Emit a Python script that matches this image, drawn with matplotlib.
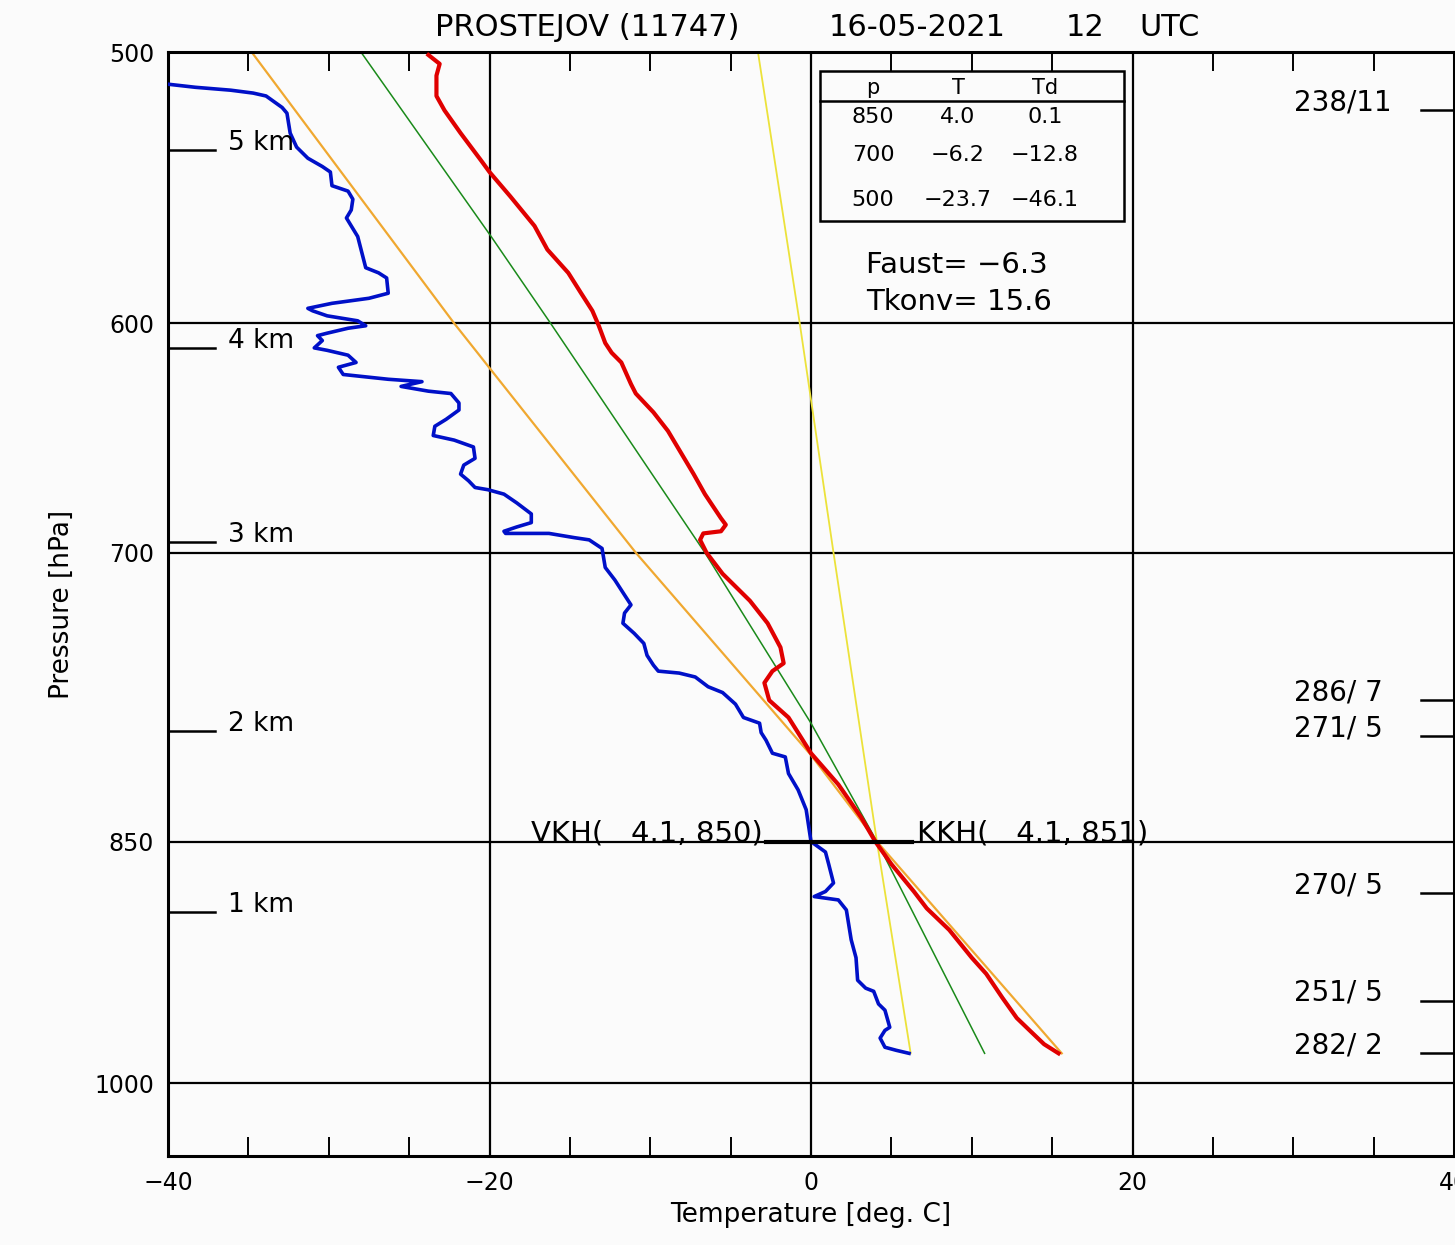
import matplotlib
matplotlib.use('Agg')
import matplotlib.pyplot as plt
import matplotlib.transforms as mtransforms

# temperature profile (red)
temp_p = [501, 504, 508, 515, 520, 528, 538, 542, 551, 562, 571, 580, 588, 595, 601, 608,
          612, 616, 625, 629, 637, 645, 658, 664, 673, 684, 687, 690, 691, 694, 700, 710,
          723, 734, 746, 754, 758, 764, 773, 782, 801, 818, 836, 850, 863, 879, 889, 902,
          919, 929, 944, 957, 965, 974, 980]
temp_t = [-23.8, -23.1, -23.3, -23.3, -22.8, -21.8, -20.5, -20.0, -18.7, -17.2, -16.4,
          -15.1, -14.3, -13.6, -13.2, -12.8, -12.4, -11.8, -11.2, -10.9, -9.8, -8.9, -7.8,
          -7.3, -6.6, -5.6, -5.3, -5.6, -6.7, -6.9, -6.5, -5.5, -3.8, -2.7, -1.9, -1.7,
          -2.4, -2.9, -2.6, -1.4, 0.0, 1.7, 3.1, 4.0, 5.0, 6.4, 7.2, 8.6, 10.0, 10.9, 11.9,
          12.8, 13.6, 14.5, 15.4]

# dew point profile (blue)
dew_p = [511, 512, 513, 514, 515, 519, 521, 528, 533, 537, 540, 542, 547, 549, 552, 556,
         559, 563, 566, 578, 580, 582, 588, 590, 592, 594, 595, 597, 599, 601, 602, 604,
         605, 607, 610, 611, 613, 616, 618, 621, 623, 624, 626, 628, 629, 633, 636, 640,
         643, 647, 649, 652, 657, 660, 664, 667, 670, 671, 673, 677, 682, 686, 688, 690,
         691, 691, 693, 694, 698, 707, 713, 719, 725, 729, 734, 739, 744, 750, 755, 758,
         759, 761, 766, 769, 775, 782, 785, 790, 794, 801, 803, 812, 821, 832, 850, 856,
         863, 874, 879, 882, 884, 890, 908, 919, 933, 938, 940, 948, 952, 963, 965, 970,
         976, 978, 980]
dew_t = [-39.9, -38.3, -36.1, -34.7, -33.9, -32.9, -32.6, -32.4, -32.0, -31.3, -30.4, -29.9,
         -29.8, -28.8, -28.5, -28.6, -28.9, -28.5, -28.2, -27.7, -26.9, -26.4, -26.3, -27.5,
         -29.8, -31.3, -31.0, -30.1, -28.2, -27.7, -28.8, -30.1, -30.7, -30.4, -30.9, -30.1,
         -28.8, -28.3, -29.4, -29.1, -26.3, -24.2, -25.5, -23.8, -22.4, -21.9, -21.9, -22.7,
         -23.4, -23.5, -22.2, -21.0, -20.9, -21.6, -21.8, -21.3, -20.9, -20.1, -19.1, -18.3,
         -17.4, -17.4, -18.3, -19.1, -19.0, -16.3, -14.7, -13.8, -13.0, -12.8, -12.2, -11.7,
         -11.2, -11.6, -11.7, -11.0, -10.4, -10.2, -9.8, -9.5, -8.2, -7.2, -6.4, -5.5, -4.7,
         -4.2, -3.2, -3.1, -2.8, -2.4, -1.6, -1.4, -0.8, -0.3, 0.0, 0.9, 1.1, 1.4, 0.9, 0.2,
         1.7, 2.2, 2.5, 2.8, 2.9, 3.4, 3.9, 4.2, 4.6, 4.9, 4.6, 4.3, 4.6, 5.3, 6.1]

# dry adiabat (orange), saturated adiabat (green), mixing ratio line (yellow)
dry_p = [500, 600, 700, 802, 850, 980]
dry_t = [-34.8, -22.2, -10.9, 0.0, 4.1, 15.6]
moist_p = [500, 566, 600, 700, 785, 850, 980]
moist_t = [-28.0, -19.9, -16.2, -6.6, 0.0, 4.1, 10.8]
mix_p = [500, 600, 700, 850, 980]
mix_t = [-3.3, -0.7, 1.4, 4.1, 6.2]

# condensation level bar
ccl_t = [-2.8, 6.3]
ccl_p = [850, 850]

# height marks and wind
km_labels = ['5 km', '4 km', '3 km', '2 km', '1 km']
km_p = [534, 610, 695, 789, 891]
wind_labels = ['238/11', '286/ 7', '271/ 5', '270/ 5', '251/ 5', '282/ 2']
wind_p = [520, 773, 792, 880, 946, 980]

tab_p = ['850', '700', '500']
tab_t = ['4.0', '\u22126.2', '\u221223.7']
tab_td = ['0.1', '\u221212.8', '\u221246.1']

bg = '#fbfbfb'
fig = plt.figure(figsize=(14.55, 12.45), dpi=100, facecolor=bg)
ax = fig.add_axes([168/1455, 89/1245, 1286/1455, 1104/1245], facecolor=bg)

ax.set_yscale('log')
ax.set_ylim(1050, 500)
ax.set_xlim(-40, 40)

for p in [600, 700, 850, 1000]:
    ax.axhline(p, color='black', lw=1.6, zorder=1)
for t in [-20, 0, 20]:
    ax.axvline(t, color='black', lw=1.6, zorder=1)

ax.plot(mix_t, mix_p, color='#ece23a', lw=1.3, zorder=2)
ax.plot(moist_t, moist_p, color='#1a8a1a', lw=1.1, zorder=2)
ax.plot(dry_t, dry_p, color='#f0a830', lw=1.6, zorder=2)
ax.plot(dew_t, dew_p, color='#0010c8', lw=2.6, zorder=3)
ax.plot(temp_t, temp_p, color='#e00000', lw=3.0, zorder=4)
ax.plot(ccl_t, ccl_p, color='black', lw=3.0, zorder=5)

ax.text(-3.0, 850, 'VKH(   4.1, 850)', ha='right', va='baseline', fontsize=21)
ax.text(6.6, 850, 'KKH(   4.1, 851)', ha='left', va='baseline', fontsize=21)

ax.set_yticks([500, 600, 700, 850, 1000])
ax.set_yticklabels(['500', '600', '700', '850', '1000'])
ax.yaxis.set_minor_locator(matplotlib.ticker.NullLocator())
ax.set_xticks([-40, -20, 0, 20, 40])
ax.set_xticks([-35, -30, -25, -15, -10, -5, 5, 10, 15, 25, 30, 35], minor=True)
ax.tick_params(axis='y', which='major', length=0, pad=10, labelsize=17)
ax.tick_params(axis='x', which='major', length=0, pad=11, labelsize=17)
ax.tick_params(axis='x', which='minor', length=14, width=1.4, direction='in',
               top=True, bottom=True, color='black')
for s in ax.spines.values():
    s.set_linewidth(2.2)

ax.set_xlabel('Temperature [deg. C]', fontsize=19, labelpad=5)
ax.set_ylabel('Pressure [hPa]', fontsize=19, labelpad=14)

# title pieces placed across the top
for s, xc in zip(['PROSTEJOV (11747)', '16-05-2021', '12', 'UTC'], [587, 917, 1085, 1170]):
    fig.text(xc/1455, 1 - 27/1245, s, ha='center', va='center', fontsize=22)

trans = mtransforms.blended_transform_factory(ax.transAxes, ax.transData)
for lab, p in zip(km_labels, km_p):
    ax.plot([0, 0.0365], [p, p], color='black', lw=1.8, transform=trans, clip_on=False)
    ax.text(0.0467, p, lab, transform=trans, ha='left', va='baseline', fontsize=19)
for lab, p in zip(wind_labels, wind_p):
    ax.plot([0.9743, 1.0], [p, p], color='black', lw=1.8, transform=trans, clip_on=False)
    ax.text(0.8756, p, lab, transform=trans, ha='left', va='baseline', fontsize=20)

# table of standard levels
ax.add_patch(plt.Rectangle((0.507, 0.8469), 0.2364, 0.1359, transform=ax.transAxes,
                           fill=False, ec='black', lw=1.8, zorder=6))
ax.plot([0.507, 0.7434], [0.9556, 0.9556], color='black', lw=1.8, transform=ax.transAxes, zorder=6)
cols = [0.5482, 0.6143, 0.6820]
for c, h in zip(cols, ['p', 'T', 'Td']):
    ax.text(c, 0.9674, h, transform=ax.transAxes, ha='center', va='center', fontsize=15)
for y, a, b, c in zip([0.9411, 0.9067, 0.8659], tab_p, tab_t, tab_td):
    for x, s in zip(cols, [a, b, c]):
        ax.text(x, y, s, transform=ax.transAxes, ha='center', va='center', fontsize=16)
ax.text(0.5428, 0.8071, 'Faust= \u22126.3', transform=ax.transAxes, ha='left', va='center', fontsize=21)
ax.text(0.5428, 0.7736, 'Tkonv= 15.6', transform=ax.transAxes, ha='left', va='center', fontsize=21)

fig.savefig('out.png', dpi=100, facecolor=bg)
